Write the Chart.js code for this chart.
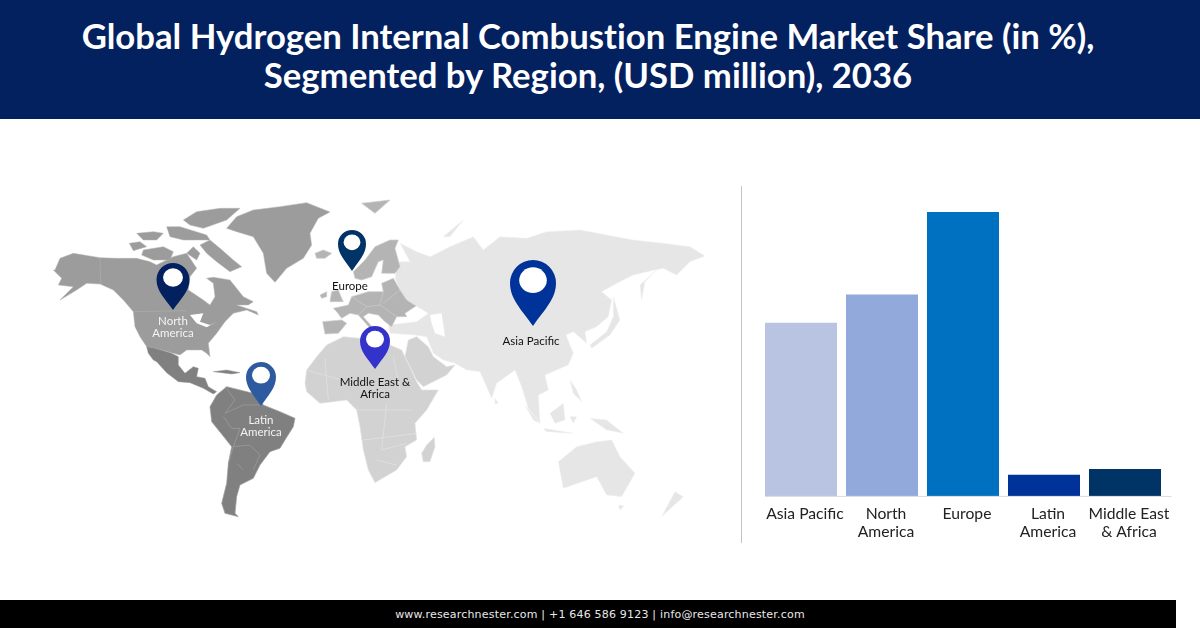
<!DOCTYPE html>
<html>
<head>
<meta charset="utf-8">
<script src="https://cdn.jsdelivr.net/npm/chart.js@4"></script>
<style>
  html, body { margin: 0; padding: 0; background: #fff; }
  body { position: relative; width: 1200px; height: 628px; overflow: hidden; font-family: Lato, sans-serif; }
  #cabecera { position: absolute; left: 0; top: 0; width: 1200px; height: 119px; background: #03205f; }
  #cabecera div { position: absolute; left: 0; width: 1176px; text-align: center; color: #fff; font-weight: 700; font-size: 34.7px; line-height: 40px; white-space: nowrap; font-variant-ligatures: none; }
  #pie { position: absolute; left: 0; top: 600px; width: 1176px; height: 28px; background: #000; color: #e8e8e8; text-align: center; font: 11px/29px "DejaVu Sans", sans-serif; letter-spacing: .2px; padding-left: 24px; box-sizing: border-box; }
  #divisor { position: absolute; left: 741px; top: 186px; width: 1px; height: 357px; background: #c4c4c4; }
  #mapa, #pines { position: absolute; left: 0; top: 0; width: 1200px; height: 628px; }
  #mapa { filter: blur(.35px); }
  #pines text { font-family: Lato, sans-serif; font-size: 11.5px; text-anchor: middle; }
  #grafico { position: absolute; left: 750px; top: 200px; width: 430px; height: 342px; }
</style>
</head>
<body>
<div id="cabecera">
  <div style="top:16px">Global Hydrogen Internal Combustion Engine Market Share (in %),</div>
  <div style="top:55px">Segmented by Region, (USD million), 2036</div>
</div>

<svg id="mapa" viewBox="0 0 1200 628">
  <!-- Asia y Oceania -->
  <g transform="translate(400 220) scale(.3333)" fill="#e6e6e6" stroke="#f0f0f0" stroke-width="1.5">
    <path d="M0 70 L50 95 L90 110 L150 80 L220 50 L250 90 L300 50 L380 55 L440 35 L540 30 L620 45 L700 60 L790 70 L870 80 L915 108 L870 125 L830 165 L790 145 L765 150 L700 165 L650 190 L605 215 L635 240 L625 290 L590 320 L555 335 L560 370 L520 335 L498 345 L520 400 L505 435 L435 465 L445 510 L415 525 L420 610 L385 565 L365 500 L345 450 L290 490 L275 535 L240 455 L200 450 L165 430 L130 420 L100 400 L80 350 L45 345 L-30 340 L-35 315 L50 305 L85 280 L48 258 L20 240 L0 210 L-15 175 L-10 140 L0 125 L30 125 Z"/>
    <path d="M640 230 L660 300 L630 345 L575 385 L570 375 L620 335 L640 290 Z"/>
    <path d="M770 150 L735 185 L725 240 L720 195 Z"/>
    <path d="M375 555 L420 610 L400 600 Z"/>
    <path d="M450 580 L490 550 L495 600 L465 610 Z"/>
    <path d="M430 625 L520 640 L440 635 Z"/>
    <path d="M510 590 L530 590 L520 610 Z"/>
    <path d="M570 595 L620 600 L670 640 L620 630 Z"/>
    <path d="M510 480 L530 510 L545 545 L520 520 Z"/>
    <path d="M475 725 L530 680 L590 665 L635 660 L660 710 L705 760 L665 830 L620 825 L590 770 L490 805 Z"/>
    <path d="M825 815 L850 830 L785 890 Z"/>
    <path d="M655 855 L672 858 L660 870 Z"/>
    <path d="M285 535 L295 550 L285 552 Z"/>
    <path d="M130 50 L190 0 L150 50 Z"/>
    <path d="M90 285 L125 280 L135 350 L105 340 L95 310 Z" fill="#fff" stroke="none"/>
  </g>
  <!-- Oriente Medio (escala de la ventana de Europa) -->
  <g transform="translate(300 190) scale(.3333)" fill="#d2d2d2" stroke="#e4e4e4" stroke-width="2">
    <path d="M325 450 L350 440 L385 470 L400 500 L440 530 L465 525 L440 555 L370 590 L350 570 L315 500 Z"/>
  </g>
  <!-- Africa -->
  <g transform="translate(200 350) scale(.3333)" fill="#d2d2d2" stroke="#e4e4e4" stroke-width="2">
    <path d="M315 100 L320 60 L350 20 L380 -15 L430 -40 L480 -35 L570 -15 L605 0 L650 95 L665 120 L715 120 L680 180 L645 220 L650 270 L615 290 L620 320 L590 360 L525 398 L505 360 L490 300 L480 230 L470 180 L440 150 L400 155 L360 160 L320 125 Z"/>
    <path d="M703 262 L705 290 L690 335 L670 335 L665 310 L680 285 Z"/>
    <path d="M375 25 L385 150 M320 60 L460 100 M470 180 L640 180 M560 160 L545 300 L620 280 M490 270 L650 250 M530 330 L590 345 M580 20 L600 120" fill="none"/>
  </g>
  <!-- Europa -->
  <g transform="translate(300 190) scale(.3333)" fill="#b4b4b4" stroke="#cdcdcd" stroke-width="2">
    <path d="M160 245 L195 210 L225 170 L270 150 L295 150 L285 175 L300 230 L285 250 L245 250 L250 210 L235 215 L215 260 L185 270 L165 265 Z"/>
    <path d="M100 355 L145 345 L155 320 L205 305 L250 305 L245 280 L280 265 L300 300 L320 330 L348 348 L315 370 L320 380 L290 380 L275 410 L255 395 L235 375 L205 370 L190 380 L220 415 L235 420 L215 420 L175 375 L150 370 L125 385 L110 365 Z"/>
    <path d="M68 395 L125 390 L140 400 L115 430 L75 432 Z"/>
    <path d="M95 305 L115 300 L125 325 L130 335 L90 335 Z"/>
    <path d="M60 315 L80 305 L80 320 L65 325 Z"/>
    <path d="M45 190 L70 180 L95 190 L75 205 L50 205 Z"/>
    <path d="M185 40 L270 30 L225 70 Z"/>
    <path d="M155 320 L200 350 L240 345 L250 305 M200 350 L175 375 M240 345 L290 380 M300 300 L250 340" fill="none"/>
  </g>
  <!-- Norteamerica y Groenlandia -->
  <g transform="translate(40 190) scale(.3333)" fill="#9c9c9c" stroke="#b4b4b4" stroke-width="1.5">
    <path d="M45 240 L60 205 L100 190 L180 203 L230 205 L290 205 L330 215 L350 225 L400 200 L440 190 L470 235 L450 260 L445 300 L490 330 L510 345 L525 320 L520 280 L500 265 L520 262 L570 270 L610 320 L640 335 L625 345 L590 345 L650 365 L655 375 L620 360 L580 370 L555 395 L530 430 L505 460 L510 500 L500 490 L485 480 L440 480 L420 495 L400 490 L345 475 L320 470 L300 440 L285 410 L280 365 L250 330 L220 300 L180 282 L140 280 L110 300 L60 330 L100 290 L55 285 L65 265 L40 240 Z"/>
    <path d="M180 203 L182 282 M280 365 L440 362" fill="none"/>
    <path d="M450 375 L490 370 L480 395 L510 405 L530 395 L500 412 L470 400 Z" fill="#fff" stroke="none"/>
    <path d="M480 165 L510 150 L540 175 L580 210 L605 230 L570 245 L530 215 L500 190 Z"/>
    <path d="M310 180 L370 170 L400 185 L390 210 L340 210 L305 195 Z"/>
    <path d="M268 160 L300 155 L320 170 L280 182 Z"/>
    <path d="M430 90 L470 65 L540 55 L600 55 L560 90 L490 115 L450 105 Z"/>
    <path d="M290 130 L340 125 L370 130 L350 150 L310 150 Z"/>
    <path d="M380 110 L420 110 L500 135 L510 150 L430 150 L390 140 Z"/>
    <path d="M460 170 L480 190 L470 210 L440 190 Z"/>
    <path d="M560 115 L590 80 L640 60 L720 50 L800 38 L870 66 L835 85 L810 130 L815 165 L790 205 L740 235 L705 277 L680 250 L670 190 L640 140 L590 125 Z"/>
  </g>
  <!-- Mexico y Centroamerica -->
  <g transform="translate(40 190) scale(.3333)" fill="#808080" stroke="#979797" stroke-width="1.5">
    <path d="M320 470 L345 475 L395 490 L415 500 L415 525 L435 550 L460 530 L475 535 L470 560 L495 565 L505 590 L530 605 L520 612 L490 595 L450 578 L415 575 L380 548 L350 515 L340 510 L325 490 Z"/>
    <path d="M520 545 L560 540 L600 548 L575 552 Z"/>
  </g>
  <!-- Sudamerica -->
  <g transform="translate(200 350) scale(.3333)" fill="#808080" stroke="#a0a0a0" stroke-width="2">
    <path d="M30 170 L50 135 L80 110 L120 120 L160 130 L190 165 L240 185 L285 205 L280 230 L255 270 L240 295 L210 305 L180 345 L160 385 L120 405 L110 440 L105 490 L115 500 L75 490 L65 460 L80 400 L85 340 L95 290 L75 265 L35 215 Z"/>
    <path d="M70 200 L95 235 L120 235 L100 290 L150 285 L180 315 L160 360 M75 110 L105 150 L75 190 L130 165 L190 165 M100 290 L85 340 M110 340 L130 360" fill="none"/>
  </g>
</svg>

<div id="divisor"></div>

<div id="grafico"><canvas id="barras"></canvas></div>

<svg id="pines" viewBox="0 0 1200 628"></svg>

<div id="pie">www.researchnester.com | +1 646 586 9123 | info@researchnester.com</div>

<script>
const categorias = ["Asia Pacific", ["North", "America"], "Europe", ["Latin", "America"], ["Middle East", "& Africa"]];
const cuotas = [24.5, 28.5, 40.2, 3.0, 3.8];
const colores = ["#b9c4e2", "#92aadb", "#0070c0", "#003399", "#003366"];

// pin: centro x, punta y, ancho, alto, color
const pines = [
  [173, 310, 33, 47, "#03205f"],
  [352, 271, 28, 41, "#003366"],
  [375, 369, 30, 43, "#3333cc"],
  [261, 406, 30, 44, "#2e5aa0"],
  [533, 326, 46, 66, "#003399"],
];
const etiquetasMapa = [
  ["North", 173, 325, "#f4f4f4"], ["America", 173, 337, "#f4f4f4"],
  ["Europe", 350, 290, "#111"],
  ["Asia Pacific", 531, 345, "#111"],
  ["Middle East &", 375, 386, "#111"], ["Africa", 375, 398, "#111"],
  ["Latin", 261, 424, "#f4f4f4"], ["America", 261, 436, "#f4f4f4"],
];

const svgNS = "http://www.w3.org/2000/svg";
const capa = document.getElementById("pines");

pines.forEach(([x, y, w, h, color]) => {
  const r = w / 2, cy = y - h + r;
  const p = document.createElementNS(svgNS, "path");
  p.setAttribute("d", `M${x} ${y} C${x - r * .5} ${y - h * .25} ${x - r} ${cy + r * .7} ${x - r} ${cy} A${r} ${r} 0 0 1 ${x + r} ${cy} C${x + r} ${cy + r * .7} ${x + r * .5} ${y - h * .25} ${x} ${y} Z`);
  p.setAttribute("fill", color);
  capa.appendChild(p);
  const c = document.createElementNS(svgNS, "ellipse");
  c.setAttribute("cx", x);
  c.setAttribute("cy", cy - r * .12);
  c.setAttribute("rx", r * .6);
  c.setAttribute("ry", r * .56);
  c.setAttribute("fill", "#fff");
  capa.appendChild(c);
});

etiquetasMapa.forEach(([txt, x, y, color]) => {
  const t = document.createElementNS(svgNS, "text");
  t.setAttribute("x", x);
  t.setAttribute("y", y);
  t.setAttribute("fill", color);
  t.textContent = txt;
  capa.appendChild(t);
});

// linea base: en el original sobresale un poco a la derecha de la ultima barra
const lineaBase = {
  id: "lineaBase",
  afterDatasetsDraw(chart) {
    const { ctx, scales: { x, y } } = chart;
    ctx.save();
    ctx.strokeStyle = "#d9d9d9";
    ctx.lineWidth = 1;
    ctx.beginPath();
    ctx.moveTo(x.left + 4.5, y.bottom + .5);
    ctx.lineTo(x.right + 6, y.bottom + .5);
    ctx.stroke();
    ctx.restore();
  }
};

new Chart(document.getElementById("barras"), {
  type: "bar",
  data: {
    labels: categorias,
    datasets: [{
      data: cuotas,
      backgroundColor: colores,
      categoryPercentage: 1,
      barPercentage: 0.889
    }]
  },
  options: {
    responsive: true,
    maintainAspectRatio: false,
    animation: false,
    layout: { padding: { left: 10.5, right: 14.5, top: 12, bottom: 0 } },
    plugins: { legend: { display: false }, tooltip: { enabled: false } },
    scales: {
      x: {
        grid: { display: false },
        border: { display: false },
        ticks: {
          autoSkip: false,
          maxRotation: 0,
          labelOffset: 4,
          padding: 1,
          color: "#222",
          font: { family: "Lato", size: 15.7, lineHeight: 1.15 }
        }
      },
      y: { display: false, min: 0, max: 40.2 }
    }
  },
  plugins: [lineaBase]
});
</script>
</body>
</html>
